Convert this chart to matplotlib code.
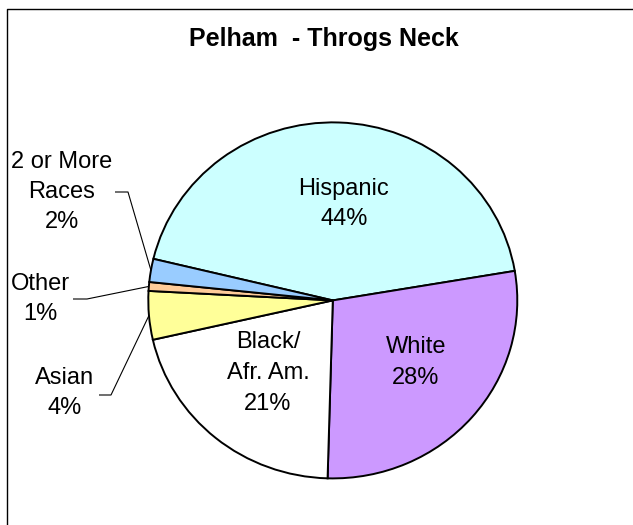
import matplotlib
matplotlib.use('Agg')
import matplotlib.pyplot as plt
import numpy as np
from matplotlib.lines import Line2D

plt.rcParams['font.family'] = ['Liberation Sans', 'DejaVu Sans']

# ---- data ----
categories = ['Hispanic', 'White', 'Black/\nAfr. Am.', 'Asian', 'Other', '2 or More\nRaces']
shares = [43.6, 28.1, 21.0, 4.4, 0.8, 2.1]
pct_labels = ['44%', '28%', '21%', '4%', '1%', '2%']
colors = ['#CCFFFF', '#CC99FF', '#FFFFFF', '#FFFF99', '#FFCC99', '#99CCFF']
title = 'Pelham  - Throgs Neck'

# ---- layout (pixels) ----
W, H = 633, 525
CX, CY, RX, RY = 332.8, 300.4, 184.5, 178.0
inside_pos = {0: (344, 204), 1: (416, 362.5), 2: (268, 373)}
outside_pos = {3: (65, 393), 4: (40.5, 299), 5: (61.5, 192)}
leader_h = {3: (99, 111, 395), 4: (73, 87, 299), 5: (115, 128, 192)}

fig = plt.figure(figsize=(W / 100, H / 100), dpi=100)
ax = fig.add_axes([0, 0, 1, 1])
wedges, _ = ax.pie(shares, colors=colors, startangle=166.5, counterclock=False,
                   wedgeprops=dict(edgecolor='black', linewidth=1.4))
ax.set_aspect('auto')
ax.set_xlim(-CX / RX, (W - CX) / RX)
ax.set_ylim((CY - H) / RY, CY / RY)
ax.axis('off')


def px(x, y):
    return ((x - CX) / RX, (CY - y) / RY)


fs = 17
for i, (cat, pl) in enumerate(zip(categories, pct_labels)):
    txt = cat + '\n' + pl
    if i in inside_pos:
        x, y = px(*inside_pos[i])
    else:
        x, y = px(*outside_pos[i])
    ax.text(x, y, txt, ha='center', va='center', fontsize=fs, linespacing=1.5)
    if i in outside_pos:
        w = wedges[i]
        mid = np.deg2rad((w.theta1 + w.theta2) / 2)
        ex, ey = np.cos(mid), np.sin(mid)
        x0, x1, yy = leader_h[i]
        a = px(x0, yy)
        b = px(x1, yy)
        ax.plot([a[0], b[0], ex], [a[1], b[1], ey], color='black', lw=0.8,
                solid_capstyle='butt')

fig.text(324 / W, 1 - 39 / H, title, ha='center', va='center', fontsize=18,
         fontweight='bold')

fig.add_artist(Line2D([7 / W, 7 / W, 1.0], [0, 1 - 9 / H, 1 - 9 / H],
                      transform=fig.transFigure, color='black', lw=1.0))

fig.savefig('out.png', dpi=100)
